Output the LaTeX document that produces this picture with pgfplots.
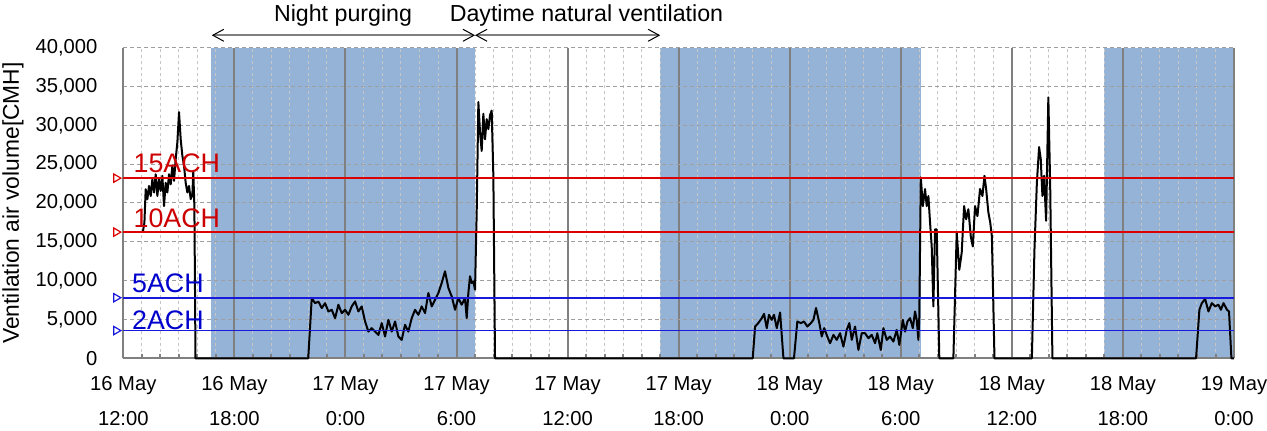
\documentclass[border=0pt]{standalone}
\usepackage{fontspec}
\setmainfont{Liberation Sans}
\usepackage{pgfplots}
\pgfplotsset{compat=1.18}
\usetikzlibrary{arrows.meta}
\definecolor{shade}{RGB}{149,179,215}
\definecolor{refred}{RGB}{204,0,0}
\definecolor{refblue}{RGB}{0,0,205}
\definecolor{linered}{RGB}{220,0,0}
\definecolor{lineblue}{RGB}{25,25,220}
\definecolor{gridgray}{RGB}{128,128,128}
\begin{document}
\begin{tikzpicture}
\begin{axis}[
  set layers,
  at={(61.65pt,36.35pt)}, anchor=south west,
  scale only axis, width=555.35pt, height=155.3pt,
  xmin=0, xmax=60, ymin=0, ymax=40000,
  clip=false,
  axis x line*=bottom, axis y line*=left,
  x axis line style={-, draw=gridgray, line width=1.2pt},
  y axis line style={-, draw=gridgray, line width=0.5pt},
  xtick={0,6,...,60},
  minor x tick num=5,
  xticklabels={{16 May\\12:00},{16 May\\18:00},{17 May\\0:00},{17 May\\6:00},{17 May\\12:00},{17 May\\18:00},{18 May\\0:00},{18 May\\6:00},{18 May\\12:00},{18 May\\18:00},{19 May\\0:00}},
  xticklabel style={align=center, font=\fontsize{10.1pt}{17.3pt}\selectfont, yshift=-5.75pt},
  ytick={0,5000,...,40000},
  yticklabel style={font=\fontsize{10.1pt}{12pt}\selectfont, xshift=-9.4pt},
  scaled y ticks=false,
  /pgf/number format/fixed,
  /pgf/number format/1000 sep={,},
  /pgf/number format/assume math mode=true,
  tick align=inside,
  major tick length=2pt, minor tick length=2pt,
  x tick style={draw=gridgray, line width=1pt},
  ytick style={draw=none},
  xmajorgrids, xminorgrids, ymajorgrids,
  major x grid style={draw=gridgray, line width=1pt, solid},
  minor x grid style={draw=gray!45, line width=0.5pt, dash pattern=on 1.5pt off 1.5pt},
  major y grid style={draw=gray!75, line width=0.5pt, dash pattern=on 2pt off 1.5pt},
  ylabel={Ventilation air volume[CMH]},
  ylabel style={at={(axis description cs:-0.0993,0.5)}, anchor=center, font=\fontsize{11.4pt}{14pt}\selectfont},
]
% shaded night purging periods
\addplot[fill=shade, draw=none, on layer=axis background] coordinates {(4.74,40000)(19,40000)} \closedcycle;
\addplot[fill=shade, draw=none, on layer=axis background] coordinates {(29,40000)(43.08,40000)} \closedcycle;
\addplot[fill=shade, draw=none, on layer=axis background] coordinates {(52.98,40000)(60,40000)} \closedcycle;

% measured ventilation air volume
\addplot[color=black, mark=none, line width=1pt, line join=round] coordinates {
(1.05,16170)(1.14,17460)(1.21,21770)(1.30,20480)(1.39,22200)(1.48,20900)(1.57,23070)(1.66,21350)(1.75,23700)(1.84,20900)(1.93,23070)(2.02,21550)(2.11,23500)(2.20,19600)(2.29,22600)(2.38,21350)(2.47,23700)(2.56,22400)(2.65,24800)(2.74,22850)(2.83,25650)(2.92,27800)(3.01,31700)(3.10,28200)(3.19,26100)(3.28,24800)(3.37,22600)(3.46,21350)(3.55,22200)(3.64,20500)(3.73,21000)(3.78,24000)(3.84,19600)(3.90,0)
(9.99,0)(10.18,7760)(10.36,7100)(10.54,7300)(10.72,6470)(10.90,7100)(11.08,6030)(11.26,6250)(11.44,5170)(11.62,6900)(11.80,5820)(11.98,6250)(12.16,5600)(12.34,6680)(12.52,7320)(12.70,6030)(12.88,6680)(13.06,4740)(13.24,3440)(13.42,3880)(13.60,3440)(13.78,3010)(13.96,4530)(14.14,2800)(14.32,4950)(14.50,3440)(14.68,4740)(14.86,2800)(15.04,2370)(15.22,4310)(15.40,3440)(15.58,5170)(15.76,6250)(15.94,5600)(16.12,6680)(16.30,5820)(16.48,8410)(16.66,6680)(16.84,7540)(17.02,8410)(17.20,9700)(17.38,11200)(17.56,9060)(17.74,7970)(17.92,6250)(18.10,7760)(18.28,6900)(18.46,7760)(18.55,5170)(18.64,8410)(18.73,10560)(18.82,9700)(18.91,9900)(19.00,8840)
(19.09,18800)(19.18,33000)(19.27,29100)(19.36,26700)(19.45,31500)(19.54,28200)(19.63,30800)(19.72,29500)(19.81,31300)(19.90,31900)(19.99,23500)(20.08,0)
(34.00,0)(34.13,4090)(34.30,4530)(34.49,5170)(34.61,5730)(34.76,3880)(34.88,5600)(35.03,4950)(35.15,5600)(35.30,3880)(35.48,5900)(35.66,0)(36.23,0)(36.41,4740)(36.60,4530)(36.77,4740)(36.95,4090)(37.14,4530)(37.28,4950)(37.42,6470)(37.60,4530)(37.73,2800)(37.86,3880)(38.03,2800)(38.18,1940)(38.36,3010)(38.54,2370)(38.72,3230)(38.90,1500)(39.08,3660)(39.22,4530)(39.35,2370)(39.53,4090)(39.71,1070)(39.89,3230)(40.07,3230)(40.25,2590)(40.43,3010)(40.61,1940)(40.73,3230)(40.92,1070)(41.06,3880)(41.24,2370)(41.42,2800)(41.60,2150)(41.78,3660)(41.92,1720)(42.11,4950)(42.23,3440)(42.36,4740)(42.50,5170)(42.65,3880)(42.77,6030)(42.86,4950)(42.95,2370)(43.00,5380)
(43.08,23300)(43.19,19600)(43.31,21800)(43.40,19600)(43.49,20900)(43.58,17500)(43.67,14400)(43.76,6680)(43.85,16600)(43.94,16600)(44.08,0)(44.84,0)(45.02,16200)(45.16,11400)(45.29,13600)(45.42,19600)(45.53,17900)(45.65,19200)(45.78,15700)(45.89,14400)(46.01,19600)(46.14,18300)(46.28,21800)(46.41,20900)(46.52,23500)(46.61,21800)(46.73,18800)(46.83,17500)(46.92,15700)(47.06,0)
(49.08,0)(49.22,14000)(49.35,22600)(49.47,27200)(49.56,25650)(49.65,20900)(49.74,23500)(49.85,17700)(49.97,33600)(50.07,22200)(50.19,0)
(57.95,0)(58.13,6250)(58.26,7100)(58.44,7630)(58.62,6030)(58.80,7100)(58.98,6680)(59.16,6900)(59.29,6250)(59.43,7100)(59.62,6250)(59.73,6030)(59.86,0)(60,0)
};

% reference lines
\addplot[draw=linered, mark=none, line width=0.9pt] coordinates {(0,23200)(60,23200)};
\addplot[draw=linered, mark=none, line width=0.9pt] coordinates {(0,16250)(60,16250)};
\addplot[draw=lineblue, mark=none, line width=0.9pt] coordinates {(0,7800)(60,7800)};
\addplot[draw=lineblue, mark=none, line width=0.9pt] coordinates {(0,3570)(60,3570)};
\addplot[only marks, mark=triangle, mark size=2.4pt, mark options={rotate=-90, draw=linered, fill=white, line width=0.6pt}] coordinates {(-0.39,23200)(-0.39,16250)};
\addplot[only marks, mark=triangle, mark size=2.4pt, mark options={rotate=-90, draw=lineblue, fill=white, line width=0.6pt}] coordinates {(-0.39,7800)(-0.39,3570)};

% labels for reference lines
\node[text=refred, anchor=base west, inner sep=0, font=\fontsize{13.4pt}{16pt}\selectfont] at (axis cs:0.54,23970) {15ACH};
\node[text=refred, anchor=base west, inner sep=0, font=\fontsize{13.4pt}{16pt}\selectfont] at (axis cs:0.54,16860) {10ACH};
\node[text=refblue, anchor=base west, inner sep=0, font=\fontsize{13.4pt}{16pt}\selectfont] at (axis cs:0.46,8450) {5ACH};
\node[text=refblue, anchor=base west, inner sep=0, font=\fontsize{13.4pt}{16pt}\selectfont] at (axis cs:0.46,3660) {2ACH};

% period arrows
\draw[gridgray, line width=1pt, {Straight Barb[color=black, length=5.5pt, width=6pt, line width=0.5pt]}-{Straight Barb[color=black, length=5.5pt, width=6pt, line width=0.5pt]}] (axis cs:4.78,41600) -- (axis cs:19,41600);
\draw[gridgray, line width=1pt, {Straight Barb[color=black, length=5.5pt, width=6pt, line width=0.5pt]}-{Straight Barb[color=black, length=5.5pt, width=6pt, line width=0.5pt]}] (axis cs:19,41600) -- (axis cs:29,41600);
\node[anchor=base, inner sep=0, font=\fontsize{11.6pt}{14pt}\selectfont] at (axis cs:11.87,43340) {Night purging};
\node[anchor=base, inner sep=0, font=\fontsize{11.6pt}{14pt}\selectfont] at (axis cs:25.02,43340) {Daytime natural ventilation};
\end{axis}
\pgfresetboundingbox
\path[use as bounding box] (0,0) rectangle (633.5pt,215.5pt);
\end{tikzpicture}
\end{document}
